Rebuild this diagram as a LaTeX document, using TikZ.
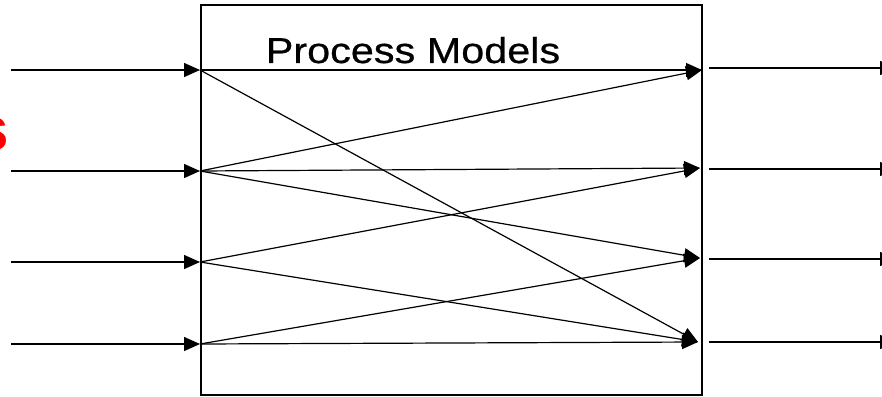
\documentclass[tikz,border=0pt]{standalone}
\usepackage{fontspec}
\setmainfont{Liberation Sans}
\usetikzlibrary{arrows.meta}
\begin{document}
\begin{tikzpicture}[x=1pt,y=-1pt,
  wire/.style={line width=1.4pt,black},
  flow/.style={wire,-{Triangle[length=16pt,width=14pt]}},
  inner/.style={line width=1.2pt,black,-{Triangle[length=16pt,width=14pt]}}]
\useasboundingbox (0,0) rectangle (882,396);
\clip (0,0) rectangle (882,396);
\fill[white] (0,0) rectangle (882,396);

% process box
\draw[line width=1.4pt] (201,5) rectangle (702,395);
\node[anchor=base,font=\fontsize{36}{40}\selectfont\addfontfeatures{FakeStretch=1.15,FakeBold=0.6},inner sep=0pt] (title) at (413,63) {Process Models};

% red label cut by the left edge
\node[anchor=base east,text=red,font=\fontsize{62}{70}\selectfont\bfseries,inner sep=0pt] (lbl) at (9,150) {s};

% inputs
\foreach \i/\y in {1/70,2/171,3/262,4/344}{
  \coordinate (a\i) at (11,\y);
  \coordinate (l\i) at (200,\y);
  \draw[flow] (a\i) -- (l\i);
}
% outputs (inside tips)
\coordinate (r1) at (702,70);
\coordinate (r2) at (700,168);
\coordinate (r3) at (700,258);
\coordinate (r4) at (698,342);

% outgoing lines, their heads run past the right edge
\foreach \i/\y in {1/68,2/169,3/259,4/342}{
  \coordinate (o\i) at (709,\y);
  \coordinate (e\i) at (896,\y);
  \draw[flow] (o\i) -- (e\i);
}

% mappings inside the box
\draw[inner] (l1) -- (r1);
\draw[inner] (l1) -- (r4);
\draw[inner] (l2) -- (r1);
\draw[inner] (l2) -- (r2);
\draw[inner] (l2) -- (r3);
\draw[inner] (l3) -- (r2);
\draw[inner] (l3) -- (r4);
\draw[inner] (l4) -- (r3);
\draw[inner] (l4) -- (r4);
\end{tikzpicture}
\end{document}
